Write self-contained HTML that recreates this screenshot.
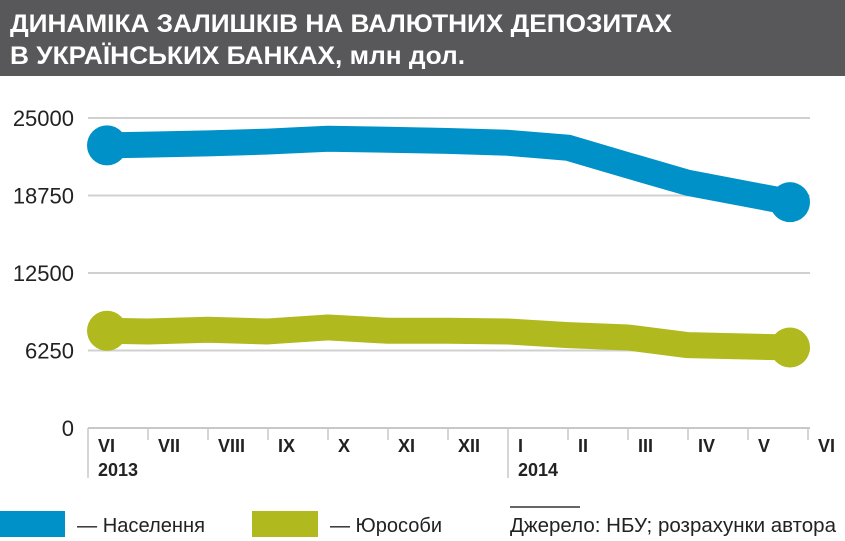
<!DOCTYPE html>
<html><head><meta charset="utf-8"><style>
body{margin:0;background:#fff;width:845px;height:541px;overflow:hidden;font-family:"Liberation Sans",sans-serif}
svg{display:block}
</style></head><body>
<svg width="845" height="541">
<rect x="0" y="0" width="845" height="76" fill="#58585a"/>
<text x="10" y="32" fill="#fff" font-size="25" font-weight="bold" textLength="662" lengthAdjust="spacingAndGlyphs">ДИНАМІКА ЗАЛИШКІВ НА ВАЛЮТНИХ ДЕПОЗИТАХ</text>
<text x="10" y="64" fill="#fff" font-size="25" font-weight="bold" textLength="455" lengthAdjust="spacingAndGlyphs">В УКРАЇНСЬКИХ БАНКАХ, млн дол.</text>
<g id="grid"></g><g id="axis"></g><g id="series"></g>
<rect x="0" y="511" width="65" height="26" fill="#0091c8"/>
<text x="77" y="532" font-size="20" fill="#222" textLength="128" lengthAdjust="spacingAndGlyphs">— Населення</text>
<rect x="252" y="511" width="66" height="26" fill="#b0ba1e"/>
<text x="330" y="532" font-size="20" fill="#222" textLength="112" lengthAdjust="spacingAndGlyphs">— Юрособи</text>
<line x1="510" y1="507" x2="580" y2="507" stroke="#333" stroke-width="1.5"/>
<text x="510" y="532" font-size="20" fill="#222" textLength="326" lengthAdjust="spacingAndGlyphs">Джерело: НБУ; розрахунки автора</text>
</svg>
<script>
const yTicks=[0,6250,12500,18750,25000];
const monthLabels=["VI","VII","VIII","IX","X","XI","XII","I","II","III","IV","V","VI"];
const yearLabels=["2013","2014"];
const population=[22790,22850,22950,23100,23330,23250,23150,23000,22600,21175,19774,18211];
const legalEntities=[7840,7785,7920,7785,8110,7840,7840,7785,7490,7300,6680,6490];
const NS="http://www.w3.org/2000/svg";
const y=v=>428-v/25000*310;
const x=i=>i===0?107:(i===population.length-1?790:88+60*i);
function mk(t,a,p){const e=document.createElementNS(NS,t);for(const k in a)e.setAttribute(k,a[k]);document.getElementById(p).appendChild(e);return e;}
yTicks.forEach(v=>{
 if(v>0){const l=mk('line',{x1:88,x2:810,y1:y(v),y2:y(v),stroke:'#d0d0d0','stroke-width':2},'grid');
 
 }
 const t=mk('text',{x:74,y:y(v)+8,'font-size':22,'text-anchor':'end',fill:'#222'},'grid');t.textContent=v;
 
 
});
const ax=mk('line',{x1:88,x2:810,y1:428,y2:428,stroke:'#c8c8c8','stroke-width':2},'axis');


for(let k=0;k<=12;k++){
 const long=(k===0||k===7);
 const tk=mk('line',{x1:88+60*k,x2:88+60*k,y1:428,y2:long?478:440,stroke:'#c8c8c8','stroke-width':1.5},'axis');
 
 
}
monthLabels.forEach((m,k)=>{
 const t=mk('text',{x:98+60*k,y:452,'font-size':18,'font-weight':'bold',fill:'#222'},'axis');t.textContent=m;
 
 
});
yearLabels.forEach((yr,j)=>{
 const t=mk('text',{x:j?518:98,y:476,'font-size':18,'font-weight':'bold',fill:'#222'},'axis');t.textContent=yr;
 
 
});
function series(data,color,name){
 const p=mk('polyline',{points:data.map((v,i)=>x(i)+','+y(v)).join(' '),fill:'none',stroke:color,'stroke-width':26,'stroke-linejoin':'round'},'series');
 
 
 [0,data.length-1].forEach(i=>{
  const c=mk('circle',{cx:x(i),cy:y(data[i]),r:20,fill:color},'series');
  
  
 });
}
series(population,'#0091c8','population');
series(legalEntities,'#b0ba1e','legal-entities');
</script>
</body></html>
